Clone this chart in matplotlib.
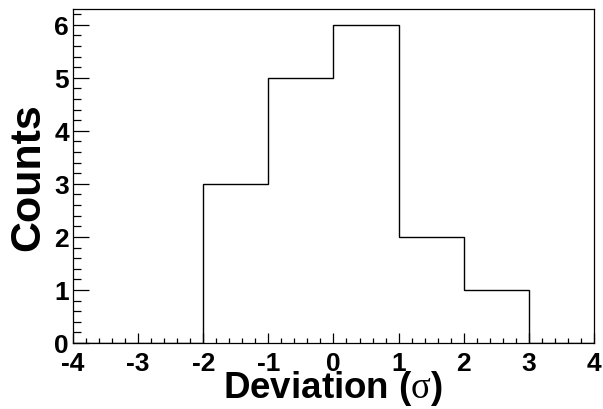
import numpy as np
import matplotlib
matplotlib.use("Agg")
import matplotlib.pyplot as plt
from matplotlib.ticker import MultipleLocator

bin_edges = [-4, -3, -2, -1, 0, 1, 2, 3, 4]
counts = [0, 0, 3, 5, 6, 2, 1, 0]
x_ticks = [-4, -3, -2, -1, 0, 1, 2, 3, 4]
y_ticks = [0, 1, 2, 3, 4, 5, 6]

plt.rcParams['font.family'] = ['Liberation Sans', 'DejaVu Sans']
plt.rcParams['axes.unicode_minus'] = False
plt.rcParams['mathtext.fontset'] = 'custom'
plt.rcParams['mathtext.rm'] = 'Liberation Serif'
plt.rcParams['mathtext.it'] = 'Liberation Serif'

fig = plt.figure(figsize=(6.03, 4.10), dpi=100)
ax = fig.add_axes([0.121, 0.161, 0.864, 0.815])

ax.stairs(counts, bin_edges, color='black', linewidth=1.0)

ax.set_xlim(-4, 4)
ax.set_ylim(0, 6.3)
ax.set_xticks(x_ticks)
ax.set_yticks(y_ticks)
ax.xaxis.set_minor_locator(MultipleLocator(0.2))
ax.yaxis.set_minor_locator(MultipleLocator(0.2))

ax.tick_params(axis='both', direction='in', top=False, right=False, labelsize=19, width=0.9)
ax.tick_params(axis='both', which='minor', direction='in', top=False, right=False, width=0.9)
ax.tick_params(axis='x', which='major', length=7.2, pad=6)
ax.tick_params(axis='x', which='minor', length=3.6)
ax.tick_params(axis='y', which='major', length=11.5, pad=3)
ax.tick_params(axis='y', which='minor', length=5.8)
for lab in ax.get_xticklabels() + ax.get_yticklabels():
    lab.set_fontweight('bold')

for sp in ax.spines.values():
    sp.set_linewidth(0.9)

ax.set_xlabel(r'Deviation ($\mathrm{\sigma}$)', fontsize=26.5, fontweight='bold', labelpad=-5)
ax.set_ylabel('Counts', fontsize=31, fontweight='bold', labelpad=4)

fig.savefig('out.png', dpi=100)
